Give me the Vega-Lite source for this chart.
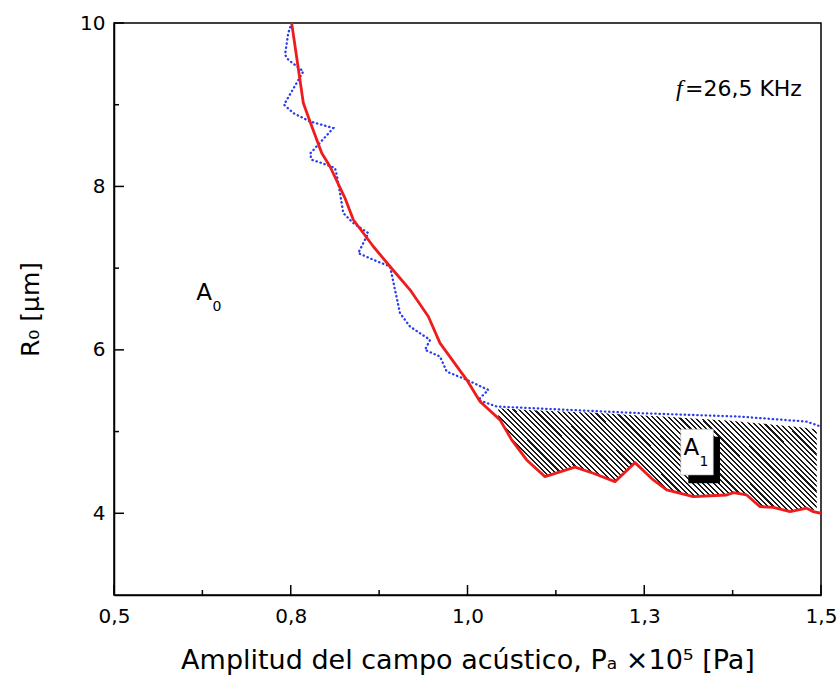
{
  "$schema": "https://vega.github.io/schema/vega-lite/v6.json",
  "width": 707,
  "height": 572,
  "autosize": {"type": "none"},
  "padding": {"left": 114, "top": 23, "right": 16, "bottom": 89},
  "background": "white",
  "config": {"view": {"stroke": "black", "strokeWidth": 1.5}, "font": "DejaVu Sans"},
  "datasets": {
    "red": [{"i":1,"x":0.7513,"y":10.0},{"i":2,"x":0.7678,"y":9.021},{"i":3,"x":0.7772,"y":8.795},{"i":4,"x":0.7938,"y":8.408},{"i":5,"x":0.8055,"y":8.244},{"i":6,"x":0.8267,"y":7.857},{"i":7,"x":0.8385,"y":7.592},{"i":8,"x":0.8668,"y":7.265},{"i":9,"x":0.8904,"y":7.02},{"i":10,"x":0.9187,"y":6.735},{"i":11,"x":0.9446,"y":6.408},{"i":12,"x":0.9611,"y":6.082},{"i":13,"x":0.9989,"y":5.633},{"i":14,"x":1.0177,"y":5.367},{"i":15,"x":1.046,"y":5.143},{"i":16,"x":1.0625,"y":4.898},{"i":17,"x":1.0837,"y":4.653},{"i":18,"x":1.1096,"y":4.449},{"i":19,"x":1.152,"y":4.564},{"i":20,"x":1.1779,"y":4.49},{"i":21,"x":1.2086,"y":4.387},{"i":22,"x":1.2369,"y":4.62},{"i":23,"x":1.2628,"y":4.408},{"i":24,"x":1.2818,"y":4.286},{"i":25,"x":1.3194,"y":4.204},{"i":26,"x":1.3666,"y":4.224},{"i":27,"x":1.376,"y":4.253},{"i":28,"x":1.3949,"y":4.224},{"i":29,"x":1.4137,"y":4.081},{"i":30,"x":1.4325,"y":4.073},{"i":31,"x":1.4562,"y":4.02},{"i":32,"x":1.4798,"y":4.062},{"i":33,"x":1.4891,"y":4.02},{"i":34,"x":1.5,"y":4.0}],
    "blue": [{"i":1,"x":0.7513,"y":10.0},{"i":2,"x":0.7465,"y":9.878},{"i":3,"x":0.7419,"y":9.612},{"i":4,"x":0.7465,"y":9.551},{"i":5,"x":0.7678,"y":9.408},{"i":6,"x":0.7405,"y":9.0},{"i":7,"x":0.7536,"y":8.898},{"i":8,"x":0.7772,"y":8.795},{"i":9,"x":0.8102,"y":8.714},{"i":10,"x":0.7772,"y":8.4},{"i":11,"x":0.7796,"y":8.326},{"i":12,"x":0.7938,"y":8.286},{"i":13,"x":0.8126,"y":8.225},{"i":14,"x":0.815,"y":8.143},{"i":15,"x":0.8197,"y":7.918},{"i":16,"x":0.8243,"y":7.674},{"i":17,"x":0.8385,"y":7.551},{"i":18,"x":0.8597,"y":7.429},{"i":19,"x":0.8455,"y":7.184},{"i":20,"x":0.8668,"y":7.102},{"i":21,"x":0.8904,"y":7.02},{"i":22,"x":0.8975,"y":6.735},{"i":23,"x":0.9045,"y":6.449},{"i":24,"x":0.9187,"y":6.285},{"i":25,"x":0.947,"y":6.122},{"i":26,"x":0.9399,"y":6.0},{"i":27,"x":0.9611,"y":5.918},{"i":28,"x":0.9706,"y":5.734},{"i":29,"x":0.9989,"y":5.633},{"i":30,"x":1.0294,"y":5.51},{"i":31,"x":1.0153,"y":5.388},{"i":32,"x":1.0413,"y":5.306},{"i":33,"x":1.244,"y":5.225},{"i":34,"x":1.3854,"y":5.183},{"i":35,"x":1.4798,"y":5.122},{"i":36,"x":1.5,"y":5.061}],
    "hatch": [{"x":1.0436,"y":5.286,"y2":5.17},{"x":1.0625,"y":5.275,"y2":4.898},{"x":1.0837,"y":5.265,"y2":4.653},{"x":1.1096,"y":5.255,"y2":4.449},{"x":1.152,"y":5.24,"y2":4.564},{"x":1.1779,"y":5.23,"y2":4.49},{"x":1.2086,"y":5.215,"y2":4.387},{"x":1.2369,"y":5.2,"y2":4.62},{"x":1.2628,"y":5.19,"y2":4.408},{"x":1.2818,"y":5.18,"y2":4.286},{"x":1.3194,"y":5.16,"y2":4.204},{"x":1.3666,"y":5.135,"y2":4.224},{"x":1.376,"y":5.13,"y2":4.253},{"x":1.3949,"y":5.115,"y2":4.224},{"x":1.4137,"y":5.1,"y2":4.081},{"x":1.4325,"y":5.085,"y2":4.073},{"x":1.4562,"y":5.065,"y2":4.02},{"x":1.4798,"y":5.045,"y2":4.062},{"x":1.494,"y":5.025,"y2":4.03}],
    "xmajor": [{"x":0.5,"y":3},{"x":0.75,"y":3},{"x":1.0,"y":3},{"x":1.25,"y":3},{"x":1.5,"y":3}],
    "xminor": [{"x":0.625,"y":3},{"x":0.875,"y":3},{"x":1.125,"y":3},{"x":1.375,"y":3}],
    "ymajor": [{"x":0.5,"y":4},{"x":0.5,"y":6},{"x":0.5,"y":8},{"x":0.5,"y":10}],
    "yminor": [{"x":0.5,"y":5},{"x":0.5,"y":7},{"x":0.5,"y":9}],
    "shadow": [{"x":1.3123,"x2":1.3571,"y":4.938,"y2":4.368}],
    "box": [{"x":1.3016,"x2":1.3477,"y":5.029,"y2":4.469}],
    "bigtext": [{"x":0.6273,"y":6.694,"t":"A"},{"x":1.3168,"y":4.8,"t":"A"}],
    "subtext": [{"x":0.6457,"y":6.526,"t":"0"},{"x":1.3345,"y":4.629,"t":"1"}],
    "ftext": [{"x":1.3076,"y":9.196,"t":"=26,5 KHz"}],
    "fsym": [{"x":1.2949,"y":9.196,"t":"f"}]
  },
  "encoding": {
    "x": {
      "field": "x", "type": "quantitative",
      "scale": {"domain": [0.5, 1.5], "nice": false, "zero": false},
      "axis": {
        "title": "Amplitud del campo acústico, Pₐ ×10⁵ [Pa]",
        "values": [0.5, 0.75, 1, 1.25, 1.5],
        "labelExpr": "replace(format(datum.value, '.1f'), '.', ',')",
        "ticks": false,
        "domainColor": "black", "domainWidth": 1.5,
        "grid": false,
        "labelFont": "DejaVu Sans", "labelFontSize": 20, "labelColor": "black",
        "labelPadding": 11, "labelFlush": false, "labelOverlap": false,
        "titleFont": "DejaVu Sans", "titleFontSize": 27, "titleFontWeight": "normal", "titleColor": "black",
        "titlePadding": 21
      }
    },
    "y": {
      "field": "y", "type": "quantitative",
      "scale": {"domain": [3, 10], "nice": false, "zero": false},
      "axis": {
        "title": "R₀ [μm]",
        "values": [4, 6, 8, 10],
        "ticks": false,
        "domainColor": "black", "domainWidth": 1.5,
        "grid": false,
        "labelFont": "DejaVu Sans", "labelFontSize": 20, "labelColor": "black",
        "labelPadding": 9, "labelOverlap": false, "labelFlush": false,
        "titleFont": "DejaVu Sans", "titleFontSize": 25, "titleFontWeight": "normal", "titleColor": "black",
        "titlePadding": 36
      }
    }
  },
  "layer": [
    {
      "data": {"name": "hatch"},
      "mark": {
        "type": "area", "clip": true,
        "fill": {
          "gradient": "linear", "x1": 0, "y1": 1, "x2": 1.198, "y2": 0.612,
          "stops": [
{"offset":0.005,"color":"#1a1a1a"},{"offset":0.005,"color":"#fff"},{"offset":0.0125,"color":"#fff"},{"offset":0.0125,"color":"#1a1a1a"},
{"offset":0.0175,"color":"#1a1a1a"},{"offset":0.0175,"color":"#fff"},{"offset":0.025,"color":"#fff"},{"offset":0.025,"color":"#1a1a1a"},
{"offset":0.03,"color":"#1a1a1a"},{"offset":0.03,"color":"#fff"},{"offset":0.0375,"color":"#fff"},{"offset":0.0375,"color":"#1a1a1a"},
{"offset":0.0425,"color":"#1a1a1a"},{"offset":0.0425,"color":"#fff"},{"offset":0.05,"color":"#fff"},{"offset":0.05,"color":"#1a1a1a"},
{"offset":0.055,"color":"#1a1a1a"},{"offset":0.055,"color":"#fff"},{"offset":0.0625,"color":"#fff"},{"offset":0.0625,"color":"#1a1a1a"},
{"offset":0.0675,"color":"#1a1a1a"},{"offset":0.0675,"color":"#fff"},{"offset":0.075,"color":"#fff"},{"offset":0.075,"color":"#1a1a1a"},
{"offset":0.08,"color":"#1a1a1a"},{"offset":0.08,"color":"#fff"},{"offset":0.0875,"color":"#fff"},{"offset":0.0875,"color":"#1a1a1a"},
{"offset":0.0925,"color":"#1a1a1a"},{"offset":0.0925,"color":"#fff"},{"offset":0.1,"color":"#fff"},{"offset":0.1,"color":"#1a1a1a"},
{"offset":0.105,"color":"#1a1a1a"},{"offset":0.105,"color":"#fff"},{"offset":0.1125,"color":"#fff"},{"offset":0.1125,"color":"#1a1a1a"},
{"offset":0.1175,"color":"#1a1a1a"},{"offset":0.1175,"color":"#fff"},{"offset":0.125,"color":"#fff"},{"offset":0.125,"color":"#1a1a1a"},
{"offset":0.13,"color":"#1a1a1a"},{"offset":0.13,"color":"#fff"},{"offset":0.1375,"color":"#fff"},{"offset":0.1375,"color":"#1a1a1a"},
{"offset":0.1425,"color":"#1a1a1a"},{"offset":0.1425,"color":"#fff"},{"offset":0.15,"color":"#fff"},{"offset":0.15,"color":"#1a1a1a"},
{"offset":0.155,"color":"#1a1a1a"},{"offset":0.155,"color":"#fff"},{"offset":0.1625,"color":"#fff"},{"offset":0.1625,"color":"#1a1a1a"},
{"offset":0.1675,"color":"#1a1a1a"},{"offset":0.1675,"color":"#fff"},{"offset":0.175,"color":"#fff"},{"offset":0.175,"color":"#1a1a1a"},
{"offset":0.18,"color":"#1a1a1a"},{"offset":0.18,"color":"#fff"},{"offset":0.1875,"color":"#fff"},{"offset":0.1875,"color":"#1a1a1a"},
{"offset":0.1925,"color":"#1a1a1a"},{"offset":0.1925,"color":"#fff"},{"offset":0.2,"color":"#fff"},{"offset":0.2,"color":"#1a1a1a"},
{"offset":0.205,"color":"#1a1a1a"},{"offset":0.205,"color":"#fff"},{"offset":0.2125,"color":"#fff"},{"offset":0.2125,"color":"#1a1a1a"},
{"offset":0.2175,"color":"#1a1a1a"},{"offset":0.2175,"color":"#fff"},{"offset":0.225,"color":"#fff"},{"offset":0.225,"color":"#1a1a1a"},
{"offset":0.23,"color":"#1a1a1a"},{"offset":0.23,"color":"#fff"},{"offset":0.2375,"color":"#fff"},{"offset":0.2375,"color":"#1a1a1a"},
{"offset":0.2425,"color":"#1a1a1a"},{"offset":0.2425,"color":"#fff"},{"offset":0.25,"color":"#fff"},{"offset":0.25,"color":"#1a1a1a"},
{"offset":0.255,"color":"#1a1a1a"},{"offset":0.255,"color":"#fff"},{"offset":0.2625,"color":"#fff"},{"offset":0.2625,"color":"#1a1a1a"},
{"offset":0.2675,"color":"#1a1a1a"},{"offset":0.2675,"color":"#fff"},{"offset":0.275,"color":"#fff"},{"offset":0.275,"color":"#1a1a1a"},
{"offset":0.28,"color":"#1a1a1a"},{"offset":0.28,"color":"#fff"},{"offset":0.2875,"color":"#fff"},{"offset":0.2875,"color":"#1a1a1a"},
{"offset":0.2925,"color":"#1a1a1a"},{"offset":0.2925,"color":"#fff"},{"offset":0.3,"color":"#fff"},{"offset":0.3,"color":"#1a1a1a"},
{"offset":0.305,"color":"#1a1a1a"},{"offset":0.305,"color":"#fff"},{"offset":0.3125,"color":"#fff"},{"offset":0.3125,"color":"#1a1a1a"},
{"offset":0.3175,"color":"#1a1a1a"},{"offset":0.3175,"color":"#fff"},{"offset":0.325,"color":"#fff"},{"offset":0.325,"color":"#1a1a1a"},
{"offset":0.33,"color":"#1a1a1a"},{"offset":0.33,"color":"#fff"},{"offset":0.3375,"color":"#fff"},{"offset":0.3375,"color":"#1a1a1a"},
{"offset":0.3425,"color":"#1a1a1a"},{"offset":0.3425,"color":"#fff"},{"offset":0.35,"color":"#fff"},{"offset":0.35,"color":"#1a1a1a"},
{"offset":0.355,"color":"#1a1a1a"},{"offset":0.355,"color":"#fff"},{"offset":0.3625,"color":"#fff"},{"offset":0.3625,"color":"#1a1a1a"},
{"offset":0.3675,"color":"#1a1a1a"},{"offset":0.3675,"color":"#fff"},{"offset":0.375,"color":"#fff"},{"offset":0.375,"color":"#1a1a1a"},
{"offset":0.38,"color":"#1a1a1a"},{"offset":0.38,"color":"#fff"},{"offset":0.3875,"color":"#fff"},{"offset":0.3875,"color":"#1a1a1a"},
{"offset":0.3925,"color":"#1a1a1a"},{"offset":0.3925,"color":"#fff"},{"offset":0.4,"color":"#fff"},{"offset":0.4,"color":"#1a1a1a"},
{"offset":0.405,"color":"#1a1a1a"},{"offset":0.405,"color":"#fff"},{"offset":0.4125,"color":"#fff"},{"offset":0.4125,"color":"#1a1a1a"},
{"offset":0.4175,"color":"#1a1a1a"},{"offset":0.4175,"color":"#fff"},{"offset":0.425,"color":"#fff"},{"offset":0.425,"color":"#1a1a1a"},
{"offset":0.43,"color":"#1a1a1a"},{"offset":0.43,"color":"#fff"},{"offset":0.4375,"color":"#fff"},{"offset":0.4375,"color":"#1a1a1a"},
{"offset":0.4425,"color":"#1a1a1a"},{"offset":0.4425,"color":"#fff"},{"offset":0.45,"color":"#fff"},{"offset":0.45,"color":"#1a1a1a"},
{"offset":0.455,"color":"#1a1a1a"},{"offset":0.455,"color":"#fff"},{"offset":0.4625,"color":"#fff"},{"offset":0.4625,"color":"#1a1a1a"},
{"offset":0.4675,"color":"#1a1a1a"},{"offset":0.4675,"color":"#fff"},{"offset":0.475,"color":"#fff"},{"offset":0.475,"color":"#1a1a1a"},
{"offset":0.48,"color":"#1a1a1a"},{"offset":0.48,"color":"#fff"},{"offset":0.4875,"color":"#fff"},{"offset":0.4875,"color":"#1a1a1a"},
{"offset":0.4925,"color":"#1a1a1a"},{"offset":0.4925,"color":"#fff"},{"offset":0.5,"color":"#fff"},{"offset":0.5,"color":"#1a1a1a"},
{"offset":0.505,"color":"#1a1a1a"},{"offset":0.505,"color":"#fff"},{"offset":0.5125,"color":"#fff"},{"offset":0.5125,"color":"#1a1a1a"},
{"offset":0.5175,"color":"#1a1a1a"},{"offset":0.5175,"color":"#fff"},{"offset":0.525,"color":"#fff"},{"offset":0.525,"color":"#1a1a1a"},
{"offset":0.53,"color":"#1a1a1a"},{"offset":0.53,"color":"#fff"},{"offset":0.5375,"color":"#fff"},{"offset":0.5375,"color":"#1a1a1a"},
{"offset":0.5425,"color":"#1a1a1a"},{"offset":0.5425,"color":"#fff"},{"offset":0.55,"color":"#fff"},{"offset":0.55,"color":"#1a1a1a"},
{"offset":0.555,"color":"#1a1a1a"},{"offset":0.555,"color":"#fff"},{"offset":0.5625,"color":"#fff"},{"offset":0.5625,"color":"#1a1a1a"},
{"offset":0.5675,"color":"#1a1a1a"},{"offset":0.5675,"color":"#fff"},{"offset":0.575,"color":"#fff"},{"offset":0.575,"color":"#1a1a1a"},
{"offset":0.58,"color":"#1a1a1a"},{"offset":0.58,"color":"#fff"},{"offset":0.5875,"color":"#fff"},{"offset":0.5875,"color":"#1a1a1a"},
{"offset":0.5925,"color":"#1a1a1a"},{"offset":0.5925,"color":"#fff"},{"offset":0.6,"color":"#fff"},{"offset":0.6,"color":"#1a1a1a"},
{"offset":0.605,"color":"#1a1a1a"},{"offset":0.605,"color":"#fff"},{"offset":0.6125,"color":"#fff"},{"offset":0.6125,"color":"#1a1a1a"},
{"offset":0.6175,"color":"#1a1a1a"},{"offset":0.6175,"color":"#fff"},{"offset":0.625,"color":"#fff"},{"offset":0.625,"color":"#1a1a1a"},
{"offset":0.63,"color":"#1a1a1a"},{"offset":0.63,"color":"#fff"},{"offset":0.6375,"color":"#fff"},{"offset":0.6375,"color":"#1a1a1a"},
{"offset":0.6425,"color":"#1a1a1a"},{"offset":0.6425,"color":"#fff"},{"offset":0.65,"color":"#fff"},{"offset":0.65,"color":"#1a1a1a"},
{"offset":0.655,"color":"#1a1a1a"},{"offset":0.655,"color":"#fff"},{"offset":0.6625,"color":"#fff"},{"offset":0.6625,"color":"#1a1a1a"},
{"offset":0.6675,"color":"#1a1a1a"},{"offset":0.6675,"color":"#fff"},{"offset":0.675,"color":"#fff"},{"offset":0.675,"color":"#1a1a1a"},
{"offset":0.68,"color":"#1a1a1a"},{"offset":0.68,"color":"#fff"},{"offset":0.6875,"color":"#fff"},{"offset":0.6875,"color":"#1a1a1a"},
{"offset":0.6925,"color":"#1a1a1a"},{"offset":0.6925,"color":"#fff"},{"offset":0.7,"color":"#fff"},{"offset":0.7,"color":"#1a1a1a"},
{"offset":0.705,"color":"#1a1a1a"},{"offset":0.705,"color":"#fff"},{"offset":0.7125,"color":"#fff"},{"offset":0.7125,"color":"#1a1a1a"},
{"offset":0.7175,"color":"#1a1a1a"},{"offset":0.7175,"color":"#fff"},{"offset":0.725,"color":"#fff"},{"offset":0.725,"color":"#1a1a1a"},
{"offset":0.73,"color":"#1a1a1a"},{"offset":0.73,"color":"#fff"},{"offset":0.7375,"color":"#fff"},{"offset":0.7375,"color":"#1a1a1a"},
{"offset":0.7425,"color":"#1a1a1a"},{"offset":0.7425,"color":"#fff"},{"offset":0.75,"color":"#fff"},{"offset":0.75,"color":"#1a1a1a"},
{"offset":0.755,"color":"#1a1a1a"},{"offset":0.755,"color":"#fff"},{"offset":0.7625,"color":"#fff"},{"offset":0.7625,"color":"#1a1a1a"},
{"offset":0.7675,"color":"#1a1a1a"},{"offset":0.7675,"color":"#fff"},{"offset":0.775,"color":"#fff"},{"offset":0.775,"color":"#1a1a1a"},
{"offset":0.78,"color":"#1a1a1a"},{"offset":0.78,"color":"#fff"},{"offset":0.7875,"color":"#fff"},{"offset":0.7875,"color":"#1a1a1a"},
{"offset":0.7925,"color":"#1a1a1a"},{"offset":0.7925,"color":"#fff"},{"offset":0.8,"color":"#fff"},{"offset":0.8,"color":"#1a1a1a"},
{"offset":0.805,"color":"#1a1a1a"},{"offset":0.805,"color":"#fff"},{"offset":0.8125,"color":"#fff"},{"offset":0.8125,"color":"#1a1a1a"},
{"offset":0.8175,"color":"#1a1a1a"},{"offset":0.8175,"color":"#fff"},{"offset":0.825,"color":"#fff"},{"offset":0.825,"color":"#1a1a1a"},
{"offset":0.83,"color":"#1a1a1a"},{"offset":0.83,"color":"#fff"},{"offset":0.8375,"color":"#fff"},{"offset":0.8375,"color":"#1a1a1a"},
{"offset":0.8425,"color":"#1a1a1a"},{"offset":0.8425,"color":"#fff"},{"offset":0.85,"color":"#fff"},{"offset":0.85,"color":"#1a1a1a"},
{"offset":0.855,"color":"#1a1a1a"},{"offset":0.855,"color":"#fff"},{"offset":0.8625,"color":"#fff"},{"offset":0.8625,"color":"#1a1a1a"},
{"offset":0.8675,"color":"#1a1a1a"},{"offset":0.8675,"color":"#fff"},{"offset":0.875,"color":"#fff"},{"offset":0.875,"color":"#1a1a1a"},
{"offset":0.88,"color":"#1a1a1a"},{"offset":0.88,"color":"#fff"},{"offset":0.8875,"color":"#fff"},{"offset":0.8875,"color":"#1a1a1a"},
{"offset":0.8925,"color":"#1a1a1a"},{"offset":0.8925,"color":"#fff"},{"offset":0.9,"color":"#fff"},{"offset":0.9,"color":"#1a1a1a"},
{"offset":0.905,"color":"#1a1a1a"},{"offset":0.905,"color":"#fff"},{"offset":0.9125,"color":"#fff"},{"offset":0.9125,"color":"#1a1a1a"},
{"offset":0.9175,"color":"#1a1a1a"},{"offset":0.9175,"color":"#fff"},{"offset":0.925,"color":"#fff"},{"offset":0.925,"color":"#1a1a1a"},
{"offset":0.93,"color":"#1a1a1a"},{"offset":0.93,"color":"#fff"},{"offset":0.9375,"color":"#fff"},{"offset":0.9375,"color":"#1a1a1a"},
{"offset":0.9425,"color":"#1a1a1a"},{"offset":0.9425,"color":"#fff"},{"offset":0.95,"color":"#fff"},{"offset":0.95,"color":"#1a1a1a"},
{"offset":0.955,"color":"#1a1a1a"},{"offset":0.955,"color":"#fff"},{"offset":0.9625,"color":"#fff"},{"offset":0.9625,"color":"#1a1a1a"},
{"offset":0.9675,"color":"#1a1a1a"},{"offset":0.9675,"color":"#fff"},{"offset":0.975,"color":"#fff"},{"offset":0.975,"color":"#1a1a1a"},
{"offset":0.98,"color":"#1a1a1a"},{"offset":0.98,"color":"#fff"},{"offset":0.9875,"color":"#fff"},{"offset":0.9875,"color":"#1a1a1a"},
{"offset":0.9925,"color":"#1a1a1a"},{"offset":0.9925,"color":"#fff"},{"offset":1,"color":"#fff"}
          ]
        }
      },
      "encoding": {"y2": {"field": "y2"}}
    },
    {
      "data": {"name": "xmajor"},
      "mark": {"type": "tick", "orient": "vertical", "color": "black", "size": 10, "thickness": 1.5, "yOffset": -5, "opacity": 1},
      "encoding": {}
    },
    {
      "data": {"name": "xminor"},
      "mark": {"type": "tick", "orient": "vertical", "color": "black", "size": 5, "thickness": 1.5, "yOffset": -2.5, "opacity": 1},
      "encoding": {}
    },
    {
      "data": {"name": "ymajor"},
      "mark": {"type": "tick", "orient": "horizontal", "color": "black", "size": 10, "thickness": 1.5, "xOffset": 5, "opacity": 1},
      "encoding": {}
    },
    {
      "data": {"name": "yminor"},
      "mark": {"type": "tick", "orient": "horizontal", "color": "black", "size": 5, "thickness": 1.5, "xOffset": 2.5, "opacity": 1},
      "encoding": {}
    },
    {
      "data": {"name": "shadow"},
      "mark": {"type": "rect", "fill": "black"},
      "encoding": {"x2": {"field": "x2"}, "y2": {"field": "y2"}}
    },
    {
      "data": {"name": "box"},
      "mark": {"type": "rect", "fill": "white", "stroke": "#aaa", "strokeWidth": 0.6},
      "encoding": {"x2": {"field": "x2"}, "y2": {"field": "y2"}}
    },
    {
      "data": {"name": "blue"},
      "mark": {"type": "line", "clip": true, "color": "#2a3cf0", "strokeWidth": 2.3, "strokeCap": "round", "strokeDash": [0.4, 3.8]},
      "encoding": {"order": {"field": "i", "type": "quantitative"}}
    },
    {
      "data": {"name": "red"},
      "mark": {"type": "line", "clip": true, "color": "#ee1c1c", "strokeWidth": 2.8, "strokeJoin": "round"},
      "encoding": {"order": {"field": "i", "type": "quantitative"}}
    },
    {
      "data": {"name": "bigtext"},
      "mark": {"type": "text", "font": "DejaVu Sans", "fontSize": 23, "color": "black", "align": "center", "baseline": "middle"},
      "encoding": {"text": {"field": "t"}}
    },
    {
      "data": {"name": "subtext"},
      "mark": {"type": "text", "font": "DejaVu Sans", "fontSize": 14, "color": "black", "align": "center", "baseline": "middle"},
      "encoding": {"text": {"field": "t"}}
    },
    {
      "data": {"name": "ftext"},
      "mark": {"type": "text", "font": "DejaVu Sans", "fontSize": 22, "color": "black", "align": "left", "baseline": "middle"},
      "encoding": {"text": {"field": "t"}}
    },
    {
      "data": {"name": "fsym"},
      "mark": {"type": "text", "font": "Liberation Serif", "fontStyle": "italic", "fontSize": 24, "color": "black", "align": "left", "baseline": "middle"},
      "encoding": {"text": {"field": "t"}}
    }
  ]
}
